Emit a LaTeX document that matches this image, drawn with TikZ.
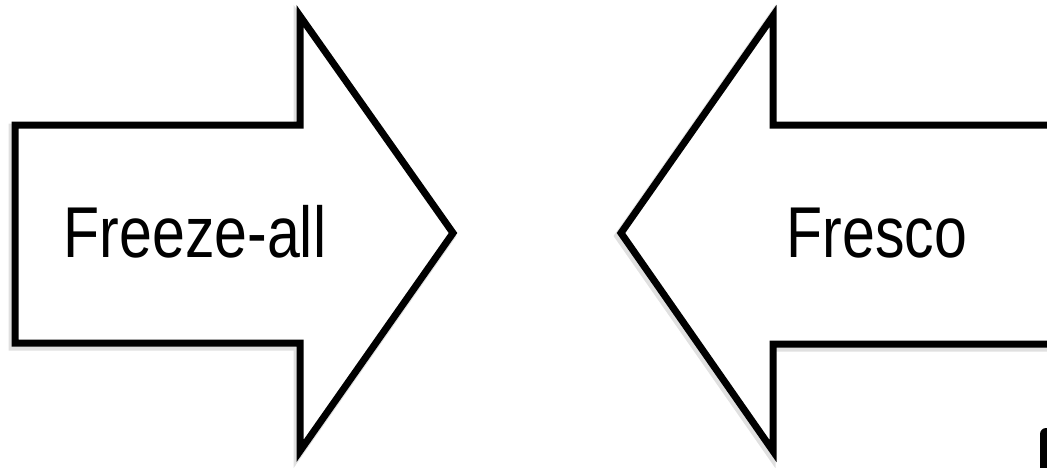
\documentclass[tikz,border=0pt]{standalone}
\usepackage{fontspec}
\newfontfamily\arrowfont[FakeStretch=0.82]{Liberation Sans}
\usetikzlibrary{positioning}

\begin{document}
\begin{tikzpicture}[x=1pt,y=-1pt,
    blockarrow/.style={draw=black,line width=7pt,fill=white,miter limit=10},
    softshadow/.style={draw=black,line width=9pt,opacity=0.12,
      miter limit=10,xshift=-2pt,yshift=-3pt},
    arrowtext/.style={font=\arrowfont\fontsize{72}{72}\selectfont,anchor=base}]
  \clip (0,0) rectangle (1047,467);

  % arrow pointing right
  \draw[softshadow] (15,125) -- (300,125) -- (300,16) -- (453,233)
    -- (300,451) -- (300,343) -- (15,343) -- cycle;
  \draw[blockarrow] (15,125) -- (300,125) -- (300,16) -- (453,233)
    -- (300,451) -- (300,343) -- (15,343) -- cycle;
  \node[arrowtext] (freeze) at (195,257) {Freeze-all};

  % arrow pointing left, runs off the page
  \draw[softshadow] (1070,125) -- (773,125) -- (773,16) -- (621,233)
    -- (773,451) -- (773,344) -- (1070,344);
  \draw[blockarrow] (1070,125) -- (773,125) -- (773,16) -- (621,233)
    -- (773,451) -- (773,344) -- (1070,344);
  \node[arrowtext] (fresco) at (877,257) {Fresco};

  % cut-off mark in the corner
  \fill[rounded corners=6pt] (1040,480) -- (1040,428) -- (1060,428)
    -- (1060,480) -- cycle;
\end{tikzpicture}
\end{document}
